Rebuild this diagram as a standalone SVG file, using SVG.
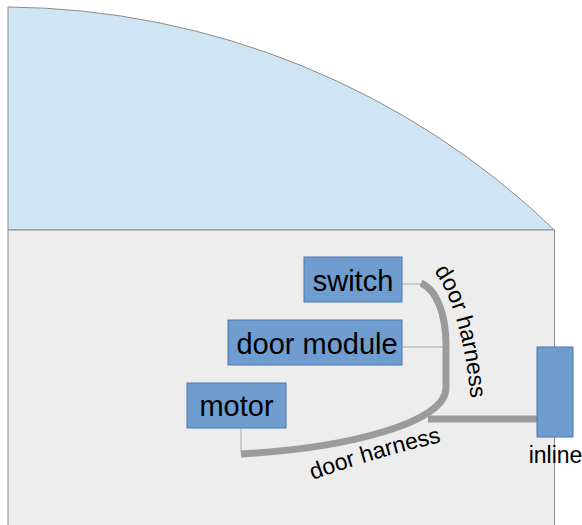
<svg xmlns="http://www.w3.org/2000/svg" width="582" height="525" viewBox="0 0 582 525">
  <style>
    .box { fill: #6f9dd0; stroke: #4a77ad; stroke-width: 1; }
    .lbl { font-family: "Liberation Sans", Arial, sans-serif; font-size: 29px; fill: #000; text-anchor: middle; }
    .small { font-family: "Liberation Sans", Arial, sans-serif; font-size: 23px; fill: #000; }
    .harness { fill: none; stroke: #9b9b9b; stroke-width: 7; stroke-linecap: butt; }
    .tap { fill: none; stroke: #ababab; stroke-width: 1; }
  </style>
  <defs>
    <path id="vlabel" d="M 434 271 Q 463 310 472 410"/>
    <path id="hlabel" d="M 313 480 Q 372 458 450 440"/>
  </defs>

  <!-- door shell: window glass above, panel below -->
  <g id="glass">
    <path d="M 8 7 A 798 798 0 0 1 554.5 230 L 8 230 Z" fill="#cfe5f3" stroke="#8c8c8c" stroke-width="1"/>
  </g>
  <g id="panel">
    <path d="M 8 530 L 8 230 L 554.5 230 L 554.5 530" fill="#ededed" stroke="#8c8c8c" stroke-width="1"/>
  </g>

  <!-- harness routing and taps -->
  <g id="connectors">
    <line class="tap" x1="402" y1="284" x2="423" y2="284"/>
    <line class="tap" x1="402" y1="347" x2="443" y2="347"/>
    <line class="tap" x1="241" y1="428" x2="241" y2="452"/>
    <path class="harness" d="M 421 283 C 437 290 446 315 446 345 L 446 388 C 446 422 350 448 241 454"/>
    <path class="harness" d="M 428 419 L 537 419"/>
    <text class="small"><textPath href="#vlabel">door harness</textPath></text>
    <text class="small"><textPath href="#hlabel">door harness</textPath></text>
  </g>

  <g id="switch">
    <rect class="box" x="304" y="257" width="98" height="45"/>
    <text class="lbl" x="353" y="291">switch</text>
  </g>
  <g id="door-module">
    <rect class="box" x="228" y="320" width="174" height="45"/>
    <text class="lbl" x="317" y="354">door module</text>
  </g>
  <g id="motor">
    <rect class="box" x="187" y="383" width="99" height="45"/>
    <text class="lbl" x="236.5" y="416">motor</text>
  </g>
  <g id="inline">
    <rect class="box" x="537" y="347" width="36" height="90"/>
    <text class="small" x="555.5" y="463" text-anchor="middle">inline</text>
  </g>
</svg>
